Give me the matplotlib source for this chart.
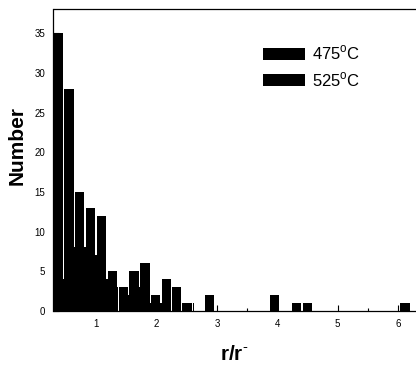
import matplotlib
matplotlib.use('Agg')
import matplotlib.pyplot as plt
from matplotlib.patches import Patch

plt.rcParams['font.family'] = ['Liberation Sans', 'DejaVu Sans']
plt.rcParams['mathtext.fontset'] = 'custom'
plt.rcParams['mathtext.rm'] = 'Liberation Sans'
plt.rcParams['mathtext.bf'] = 'Liberation Sans:bold'

# Size distribution histogram, r/r_mean, two annealing temperatures
# left bin edges (r/r_mean) and counts
edges_475 = [0.29, 0.47, 0.65, 0.83, 1.01, 1.19, 1.37, 1.55, 1.73, 1.91,
             2.09, 2.26, 2.44, 2.80, 3.88, 4.24, 4.42, 6.03]
counts_475 = [35, 28, 15, 13, 12, 5, 3, 5, 6, 2,
              4, 3, 1, 2, 2, 1, 1, 1]

edges_525 = [0.44, 0.62, 0.80, 0.98, 1.16, 1.34, 1.52, 1.70, 1.88, 2.06,
             2.42, 2.60, 6.18]
counts_525 = [4, 8, 8, 7, 4, 3, 2, 3, 1, 1,
              1, 1, 1]

labels = ['475$^{\\rm o}$C', '525$^{\\rm o}$C']
xticks = [1, 2, 3, 4, 5, 6]
yticks = [0, 5, 10, 15, 20, 25, 30, 35]

fig = plt.figure(figsize=(4.16, 3.66), dpi=100)
ax = fig.add_axes([53.5 / 416, 55 / 366, (416 - 53.5) / 416, (311 - 9.3) / 366])

ax.bar(edges_525, counts_525, width=0.0275, align='edge', color='black', linewidth=0)
ax.bar(edges_475, counts_475, width=0.152, align='edge', color='black', linewidth=0)

ax.set_xlim(0.29, 6.30)
ax.set_ylim(0, 38)
ax.set_xticks(xticks)
ax.set_xticks([0.5 + i for i in range(6)], minor=True)
ax.set_yticks(yticks)
ax.tick_params(which='both', direction='in', labelsize=7, pad=6, width=0.8)
ax.tick_params(which='major', length=4)
ax.tick_params(which='minor', length=2.5)

for side in ['left', 'bottom', 'top']:
    ax.spines[side].set_linewidth(0.9)
ax.spines['right'].set_visible(False)

ax.text(-0.10, 0.55, 'Number', transform=ax.transAxes, rotation=90,
        ha='center', va='center', fontsize=15, fontweight='bold')
ax.text(0.5, -0.143, 'r/r$^{\\bf\\text{-}}$', transform=ax.transAxes,
        ha='center', va='center', fontsize=15, fontweight='bold')

handles = [Patch(facecolor='black', edgecolor='none') for _ in labels]
ax.legend(handles, labels, loc='upper left', bbox_to_anchor=(0.578, 0.885),
          frameon=False, fontsize=12, handlelength=2.5, handleheight=0.75,
          handletextpad=0.45, labelspacing=0.45, borderpad=0, borderaxespad=0)

fig.savefig('out.png', dpi=100)
